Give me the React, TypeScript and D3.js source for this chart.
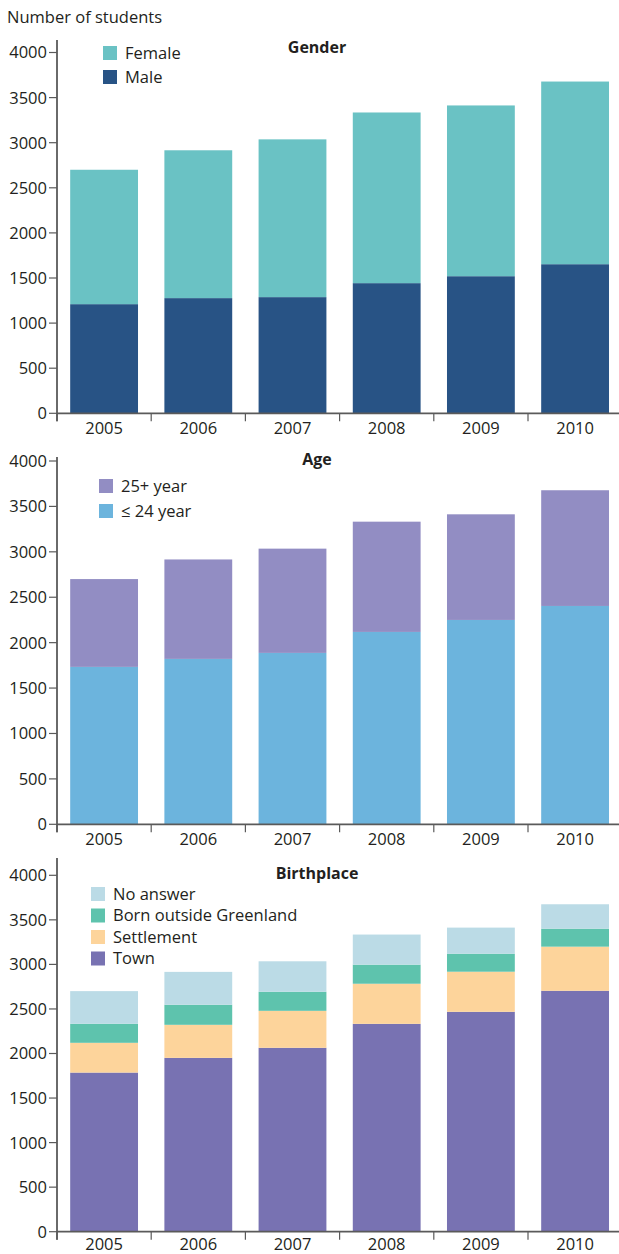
import React from "react";
import * as d3 from "d3";

const years = ["2005", "2006", "2007", "2008", "2009", "2010"];
const yTicks = [0, 500, 1000, 1500, 2000, 2500, 3000, 3500, 4000];

// Gender
const male = [1210, 1277, 1288, 1443, 1520, 1653];
const female = [1490, 1639, 1749, 1892, 1893, 2025];

// Age
const age24 = [1733, 1821, 1887, 2118, 2250, 2404];
const age25 = [967, 1095, 1148, 1214, 1163, 1274];

// Birthplace
const town = [1786, 1951, 2064, 2333, 2468, 2704];
const settlement = [334, 371, 415, 450, 450, 495];
const bornOutside = [214, 225, 214, 214, 202, 202];
const noAnswer = [366, 369, 342, 338, 293, 274];

const FONT = "'Open Sans', 'Noto Sans', sans-serif";
const TXT = "#231f20";
const AX = "#5a5a5a";
const FS = 16.5;

type Series = { name: string; values: number[]; color: string };
type PanelCfg = {
  title: string;
  titleY: number;
  y4000: number;
  yZero: number;
  axisTop: number;
  labelOffset: number;
  series: Series[]; // bottom to top
  legend: Series[]; // top to bottom
  legendX: number;
  legendY: number;
  legendStep: number;
};

const panels: PanelCfg[] = [
  {
    title: "Gender",
    titleY: 52.7,
    y4000: 52.5,
    yZero: 413.3,
    axisTop: 40,
    labelOffset: 20.5,
    series: [
      { name: "Male", values: male, color: "#285385" },
      { name: "Female", values: female, color: "#6ac2c4" },
    ],
    legend: [],
    legendX: 103,
    legendY: 46,
    legendStep: 24,
  },
  {
    title: "Age",
    titleY: 465,
    y4000: 461,
    yZero: 824.3,
    axisTop: 457,
    labelOffset: 20.5,
    series: [
      { name: "≤ 24 year", values: age24, color: "#6cb4dd" },
      { name: "25+ year", values: age25, color: "#928dc3" },
    ],
    legend: [],
    legendX: 99,
    legendY: 479,
    legendStep: 25,
  },
  {
    title: "Birthplace",
    titleY: 879,
    y4000: 875.3,
    yZero: 1231.7,
    axisTop: 858,
    labelOffset: 18,
    series: [
      { name: "Town", values: town, color: "#7872b2" },
      { name: "Settlement", values: settlement, color: "#fdd49b" },
      { name: "Born outside Greenland", values: bornOutside, color: "#5ec3ad" },
      { name: "No answer", values: noAnswer, color: "#bbdbe6" },
    ],
    legend: [],
    legendX: 91,
    legendY: 887,
    legendStep: 21.5,
  },
];
panels.forEach((p) => (p.legend = [...p.series].reverse()));

const AXIS_X = 57;
const STEP = 94.2;
const x = d3
  .scaleBand<string>()
  .domain(years)
  .range([AXIS_X, AXIS_X + STEP * years.length])
  .paddingInner(0.28)
  .paddingOuter(0.14);

function Panel({ cfg }: { cfg: PanelCfg }) {
  const y = d3.scaleLinear().domain([0, 4000]).range([cfg.yZero, cfg.y4000]);
  const stack = d3
    .stack<number>()
    .keys(cfg.series.map((_, i) => String(i)))
    .value((d, key) => cfg.series[+key].values[d]);
  const stacked = stack(years.map((_, i) => i));
  const step = x.step();
  const [r0] = x.range();
  return (
    <g>
      {stacked.map((layer, si) => (
        <g key={si} fill={cfg.series[si].color}>
          {layer.map((d, i) => (
            <rect
              key={i}
              x={x(years[i])}
              width={x.bandwidth()}
              y={y(d[1])}
              height={y(d[0]) - y(d[1])}
            />
          ))}
        </g>
      ))}
      {/* y axis */}
      <line x1={AXIS_X} x2={AXIS_X} y1={cfg.axisTop} y2={cfg.yZero + 8} stroke={AX} strokeWidth={1.8} />
      {yTicks.map((t) => (
        <g key={t}>
          <line x1={AXIS_X - 8} x2={AXIS_X} y1={y(t)} y2={y(t)} stroke={AX} strokeWidth={1.2} />
          <text x={AXIS_X - 10} y={y(t)} dy="0.36em" textAnchor="end" fontSize={FS} fill={TXT} fontFamily={FONT}>
            {t}
          </text>
        </g>
      ))}
      {/* x axis */}
      <line x1={AXIS_X} x2={619} y1={cfg.yZero} y2={cfg.yZero} stroke={AX} strokeWidth={1.8} />
      {years.map((yr, i) => (
        <g key={yr}>
          <line x1={r0 + i * step} x2={r0 + i * step} y1={cfg.yZero} y2={cfg.yZero + 8} stroke={AX} strokeWidth={1.2} />
          <text
            x={(x(yr) as number) + x.bandwidth() / 2}
            y={cfg.yZero + cfg.labelOffset}
            textAnchor="middle"
            fontSize={FS}
            fill={TXT}
            fontFamily={FONT}
          >
            {yr}
          </text>
        </g>
      ))}
      <text x={317} y={cfg.titleY} textAnchor="middle" fontSize={16} fontWeight="bold" fill={TXT} fontFamily={FONT}>
        {cfg.title}
      </text>
      {cfg.legend.map((s, i) => (
        <g key={s.name}>
          <rect x={cfg.legendX} y={cfg.legendY + i * cfg.legendStep} width={14} height={14} fill={s.color} />
          <text
            x={cfg.legendX + 22}
            y={cfg.legendY + i * cfg.legendStep + 7}
            dy="0.36em"
            fontSize={FS}
            fill={TXT}
            fontFamily={FONT}
          >
            {s.name}
          </text>
        </g>
      ))}
    </g>
  );
}

export default function App() {
  return (
    <svg
      width={619}
      height={1254}
      style={{ position: "absolute", left: 0, top: 0, background: "#fff" }}
    >
      <text x={7} y={23} fontSize={FS} fill={TXT} fontFamily={FONT}>
        Number of students
      </text>
      {panels.map((p) => (
        <Panel key={p.title} cfg={p} />
      ))}
    </svg>
  );
}
